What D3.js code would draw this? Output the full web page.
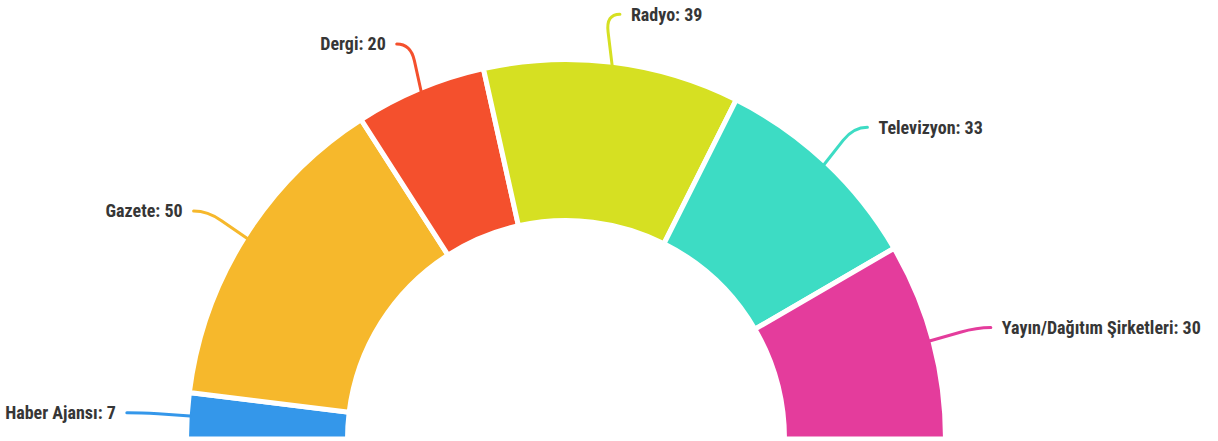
<!DOCTYPE html>
<html>
<head>
<meta charset="utf-8">
<script src="https://cdn.jsdelivr.net/npm/d3@7"></script>
<style>
	html, body { margin: 0; padding: 0; background: #fff; }
	svg { display: block; }
	.label { font-family: Roboto, sans-serif; font-weight: 700; font-size: 18px; fill: #363636; font-stretch: condensed; }
</style>
</head>
<body>
<div id="pie"><svg width="1218" height="441"></svg></div>
<script>
var WIDTH = 1218;
var HEIGHT = 441;

var categories = ['Haber Ajansı', 'Gazete', 'Dergi', 'Radyo', 'Televizyon', 'Yayın/Dağıtım Şirketleri'];
var values = [7, 50, 20, 39, 33, 30];
var colors = ['#3497ea', '#f6b82c', '#f4502d', '#d6e022', '#3ddcc4', '#e43c9c'];

var cx = 566, cy = 439;
var outerR = 379.5, innerR = 218.5;
var labelRx = 440, labelRy = 428;

function init() {
	var svg = d3.select('#pie').select('svg');

	var data = categories.map(function(c, i) {
		return {name: c, value: values[i], color: colors[i]};
	});

	var pie = d3.pie()
		.value(function(d) { return d.value; })
		.sort(null)
		.startAngle(-Math.PI/2)
		.endAngle(Math.PI/2);

	var arc = d3.arc()
		.innerRadius(innerR)
		.outerRadius(outerR);

	var arcs = pie(data);

	var g = svg.append('g')
		.attr('transform', 'translate('+cx+','+cy+')');

	g.selectAll('path.slice')
		.data(arcs)
		.enter().append('path')
		.attr('class', 'slice')
		.attr('d', arc)
		.attr('fill', function(d) { return d.data.color; })
		.attr('stroke', '#fff')
		.attr('stroke-width', 5);

	// ticks + labels
	arcs.forEach(function(d) {
		var a = (d.startAngle + d.endAngle)/2;	// 0 = up, clockwise
		var sx = Math.sin(a), sy = -Math.cos(a);
		var p0 = [(outerR-3)*sx, (outerR-3)*sy];
		var p2 = [labelRx*sx, labelRy*sy];
		var dir = sx < 0 ? -1 : 1;
		var ctrl = [p2[0] - dir*14, p2[1]];

		var path = 'M '+p0[0]+','+p0[1]+' L '+(ctrl[0]+(p0[0]-ctrl[0])*0.35)+','+(ctrl[1]+(p0[1]-ctrl[1])*0.35)+
			' Q '+ctrl[0]+','+ctrl[1]+' '+p2[0]+','+p2[1];

		g.append('path')
			.attr('d', path)
			.attr('fill', 'none')
			.attr('stroke', d.data.color)
			.attr('stroke-width', 3)
			.attr('stroke-linecap', 'round');

		g.append('text')
			.attr('class', 'label')
			.attr('x', p2[0] + dir*11)
			.attr('y', p2[1])
			.attr('dy', '0.35em')
			.attr('text-anchor', dir < 0 ? 'end' : 'start')
			.text(d.data.name + ': ' + d.data.value);
	});
}

init();
</script>
</body>
</html>
